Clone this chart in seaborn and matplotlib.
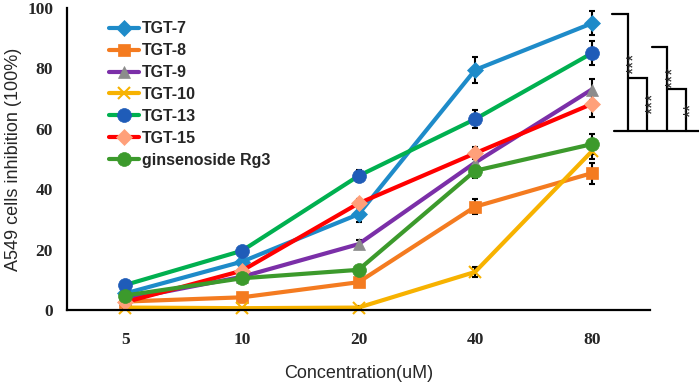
import matplotlib
matplotlib.use("Agg")
import matplotlib.pyplot as plt
import seaborn as sns
import pandas as pd

concentrations = ["5", "10", "20", "40", "80"]
names = ["TGT-7", "TGT-8", "TGT-9", "TGT-10", "TGT-13", "TGT-15", "ginsenoside Rg3"]

tgt7 = [5.5, 16.0, 31.7, 79.5, 94.9]
tgt8 = [2.8, 4.2, 9.2, 34.2, 45.3]
tgt9 = [3.5, 11.0, 21.8, 48.8, 73.0]
tgt10 = [0.8, 0.6, 0.8, 12.6, 52.5]
tgt13 = [8.3, 19.6, 44.4, 63.2, 85.0]
tgt15 = [2.6, 13.0, 35.3, 51.9, 68.2]
rg3 = [4.8, 10.5, 13.3, 46.1, 54.9]

err7 = [0.8, 1.0, 2.5, 4.4, 4.0]
err8 = [0.5, 0.6, 1.0, 2.5, 3.5]
err9 = [0.5, 0.8, 1.5, 2.0, 3.4]
err10 = [0.4, 0.4, 0.5, 1.8, 2.5]
err13 = [0.8, 1.0, 2.0, 3.1, 4.0]
err15 = [0.6, 0.8, 1.5, 2.0, 4.2]
errrg3 = [0.6, 0.8, 1.0, 2.5, 3.4]

values = [tgt7, tgt8, tgt9, tgt10, tgt13, tgt15, rg3]
errors = [err7, err8, err9, err10, err13, err15, errrg3]

line_colors = ["#1E8BC9", "#F47B20", "#7B2FA8", "#F7B200", "#00B050", "#FF0000", "#3C9A2C"]
marker_colors = ["#1E8BC9", "#F47B20", "#8C8C8C", "#F7B200", "#1F5CB8", "#FFA07A", "#3C9A2C"]
markers = ["D", "s", "^", "x", "o", "D", "o"]
msizes = [8, 9, 9, 9, 10, 8, 10]

sns.set_style("white")
plt.rcParams["font.family"] = ["Liberation Sans", "DejaVu Sans"]

fig = plt.figure(figsize=(6.99, 3.84), dpi=100)
ax = fig.add_axes([67 / 699, 1 - 310 / 384, 583 / 699, 302 / 384])

pos = list(range(len(concentrations)))
for name, vals, errs, lc, mc, mk, ms in zip(names, values, errors, line_colors,
                                               marker_colors, markers, msizes):
    df = pd.DataFrame({"pos": pos, "val": vals})
    ax.errorbar(pos, vals, yerr=errs, fmt="none", ecolor="black", elinewidth=1.5,
                capsize=2.5, capthick=1.5, zorder=1)
    sns.lineplot(data=df, x="pos", y="val", ax=ax, color=lc, linewidth=3,
                 marker=mk, markersize=ms, markerfacecolor=mc,
                 markeredgecolor=mc, markeredgewidth=1.5 if mk == "x" else 0.5,
                 label=name, zorder=2, clip_on=False)

ax.set_xlim(-0.5, 4.5)
ax.set_ylim(0, 100)
ax.set_xticks(pos)
ax.set_xticklabels(concentrations)
ax.set_xticks([4.5], minor=True)
ax.set_yticks([0, 20, 40, 60, 80, 100])

for s in ["top", "right"]:
    ax.spines[s].set_visible(False)
for s in ["left", "bottom"]:
    ax.spines[s].set_color("black")
    ax.spines[s].set_linewidth(1.6)

ax.tick_params(axis="both", which="both", direction="out", color="black", width=1.4)
ax.tick_params(axis="y", length=5, pad=5)
ax.tick_params(axis="x", which="both", length=4, pad=12)
for lab in ax.get_xticklabels() + ax.get_yticklabels():
    lab.set_fontfamily(["Liberation Serif", "DejaVu Serif"])
    lab.set_fontweight("bold")
    lab.set_fontsize(12.5)

ax.set_xlabel("Concentration(uM)", fontsize=13, labelpad=12)
ax.set_ylabel("A549 cells inhibition (100%)", fontsize=13, labelpad=4)

leg = ax.legend(loc="upper left", bbox_to_anchor=(0.058, 0.982), frameon=False,
                borderpad=0, labelspacing=0.43, handlelength=1.9, handletextpad=0.15,
                prop={"weight": "bold", "size": 11.5}, numpoints=1)

# significance brackets
br = dict(color="black", linewidth=1.6, clip_on=False, solid_joinstyle="miter")
ax.plot([4.19, 4.92], [59.3, 59.3], **br)
ax.plot([4.17, 4.31, 4.31], [98.0, 98.0, 59.3], **br)
ax.plot([4.31, 4.47, 4.47], [76.8, 76.8, 59.3], **br)
ax.plot([4.52, 4.65, 4.65], [87.0, 87.0, 59.3], **br)
ax.plot([4.65, 4.81, 4.81], [73.2, 73.2, 59.3], **br)

stars = [(4.37, 81.8, "***"), (4.53, 68.5, "***"), (4.70, 77.2, "***"), (4.86, 66.2, "**")]
for sx, sy, st in stars:
    ax.text(sx, sy, st, rotation=90, ha="center", va="center", fontsize=13,
            clip_on=False)

fig.savefig("out.png", dpi=100)
